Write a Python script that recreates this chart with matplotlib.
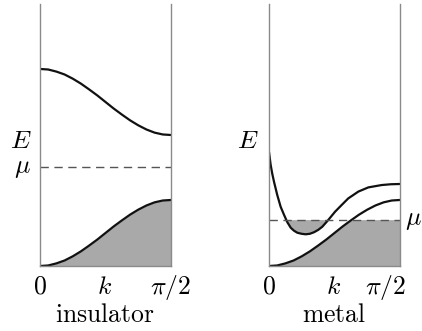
import numpy as np
import matplotlib
matplotlib.use('Agg')
import matplotlib.pyplot as plt

plt.rcParams['mathtext.fontset'] = 'cm'
plt.rcParams['font.family'] = ['DejaVu Serif']

# band energies (arbitrary units, 0 = band bottom), k given as fraction of pi/2
k_frac = [i / 16 for i in range(17)]
ins_upper = [0.752, 0.750, 0.742, 0.731, 0.715, 0.696, 0.674, 0.651, 0.626,
             0.601, 0.578, 0.556, 0.537, 0.521, 0.509, 0.502, 0.500]
ins_lower = [0.000, 0.002, 0.010, 0.021, 0.037, 0.056, 0.078, 0.101, 0.126,
             0.151, 0.174, 0.196, 0.215, 0.231, 0.243, 0.250, 0.252]
ins_mu = 0.378

met_lower = ins_lower
met_upper_k = [0.0, 0.013, 0.025, 0.038, 0.063, 0.089, 0.115, 0.14, 0.166, 0.19,
               0.216, 0.248, 0.28, 0.312, 0.344, 0.376, 0.407, 0.453, 0.504,
               0.555, 0.605, 0.682, 0.758, 0.86, 0.93, 1.0]
met_upper = [0.435, 0.385, 0.352, 0.322, 0.271, 0.226, 0.195, 0.167, 0.146, 0.135,
             0.127, 0.123, 0.121, 0.123, 0.129, 0.138, 0.150, 0.176, 0.207,
             0.233, 0.258, 0.284, 0.300, 0.309, 0.312, 0.313]
met_mu = 0.177

W, H = 422, 331
fig = plt.figure(figsize=(W / 100, H / 100), dpi=100)

FILL = '#a9a9a9'
AXC = '#8a8a8a'


def panel(x0):
    ax = fig.add_axes([x0 / W, 1 - 266 / H, 131 / W, 262 / H])
    ax.set_xlim(0, np.pi / 2)
    ax.set_ylim(0, 1)
    ax.set_xticks([])
    ax.set_yticks([])
    ax.spines['top'].set_visible(False)
    for s in ('left', 'right', 'bottom'):
        ax.spines[s].set_color(AXC)
        ax.spines[s].set_linewidth(1.0)
    return ax


k = np.array(k_frac) * np.pi / 2

# insulator
ax1 = panel(40)
ax1.fill_between(k, 0, ins_lower, color=FILL, lw=0)
ax1.plot(k, ins_upper, color='#111111', lw=1.6, solid_capstyle='round')
ax1.plot(k, ins_lower, color='#111111', lw=1.6, solid_capstyle='round')
ax1.axhline(ins_mu, color='#555555', lw=1.0, dashes=(6, 4))

# metal
ax2 = panel(269)
ku = np.array(met_upper_k) * np.pi / 2
mu_arr = np.full_like(k, met_mu)
ax2.fill_between(k, 0, np.minimum(met_lower, mu_arr), color=FILL, lw=0)
ax2.fill_between(ku, met_upper, met_mu, where=np.array(met_upper) < met_mu,
                 interpolate=True, color=FILL, lw=0)
ax2.plot(ku, met_upper, color='#111111', lw=1.6, solid_capstyle='round')
ax2.plot(k, met_lower, color='#111111', lw=1.6, solid_capstyle='round')
ax2.axhline(met_mu, color='#555555', lw=1.0, dashes=(6, 4))


def label(x, y, s, ha='center', size=18.5):
    fig.text(x / W, 1 - y / H, s, ha=ha, va='center', fontsize=size)


label(21, 140, r'$E$')
label(22, 168, r'$\mu$')
label(40, 286, r'$0$')
label(105, 287, r'$k$')
label(170, 287, r'$\pi/2$')
label(105, 314, r'$\mathrm{insulator}$')

label(248, 140, r'$E$')
label(405, 220, r'$\mu$', ha='left')
label(269, 286, r'$0$')
label(334, 287, r'$k$')
label(385, 287, r'$\pi/2$')
label(334, 314, r'$\mathrm{metal}$')

fig.savefig('out.png', dpi=100)
